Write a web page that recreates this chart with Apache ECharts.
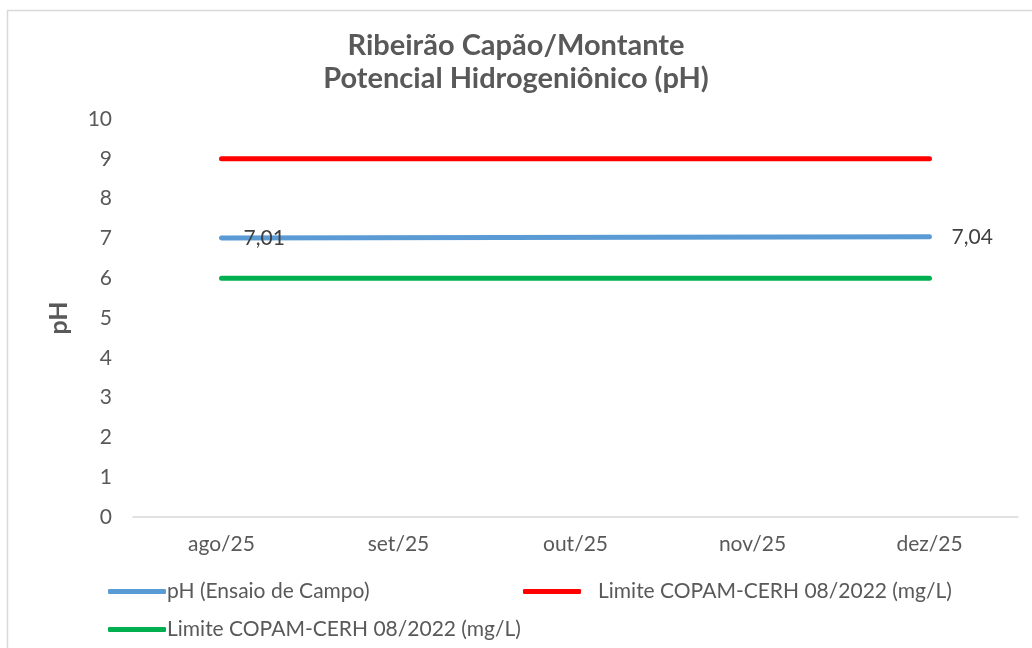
<!DOCTYPE html>
<html>
<head>
<meta charset="utf-8">
<script src="https://cdn.jsdelivr.net/npm/echarts@6/dist/echarts.min.js"></script>
<style>
  html, body { margin: 0; padding: 0; background: #fff; }
  #chart { width: 1032px; height: 648px; }
</style>
</head>
<body>
<div id="chart"></div>
<script>
// data
const categories = ['ago/25', 'set/25', 'out/25', 'nov/25', 'dez/25'];
const phValues = [7.01, null, null, null, 7.04];
const limitMax = [9, 9, 9, 9, 9];
const limitMin = [6, 6, 6, 6, 6];
const yTicks = [0, 10, 1]; // min, max, step

const nomePh = 'pH (Ensaio de Campo)';
const nomeMax = 'Limite COPAM-CERH 08/2022 (mg/L)';
const nomeMin = 'Limite COPAM-CERH 08/2022 (mg/L) '; // trailing space so legend keeps them apart

const fonte = 'Lato';
const cinza = '#595959';

const myChart = echarts.init(document.getElementById('chart'));

const legendBase = {
  itemWidth: 58,
  itemHeight: 5,
  icon: 'roundRect',
  selectedMode: false
};

const option = {
  animation: false,
  title: {
    text: 'Ribeirão Capão/Montante\nPotencial Hidrogeniônico (pH)',
    left: 'center',
    top: 24,
    textStyle: { fontFamily: fonte, fontSize: 29, fontWeight: 'bold', color: cinza, lineHeight: 33 }
  },
  graphic: [{
    type: 'rect',
    left: 5, top: 8,
    shape: { width: 1040, height: 660 },
    style: { fill: 'none', stroke: '#d9d9d9', lineWidth: 1.5 }
  }],
  legend: [
    Object.assign({ data: [nomePh], left: 103, top: 576,
      textStyle: { fontFamily: fonte, fontSize: 21, color: cinza, padding: [0, 0, 0, -4] } }, legendBase),
    Object.assign({ data: [nomeMax], left: 518, top: 576,
      textStyle: { fontFamily: fonte, fontSize: 21, color: cinza, padding: [0, 0, 0, 12] } }, legendBase),
    Object.assign({ data: [nomeMin], left: 103, top: 614,
      textStyle: { fontFamily: fonte, fontSize: 21, color: cinza, padding: [0, 0, 0, -4] } }, legendBase)
  ],
  grid: { left: 133, right: 14, top: 119, bottom: 131 },
  xAxis: {
    type: 'category',
    data: categories,
    boundaryGap: true,
    axisLine: { lineStyle: { color: '#d9d9d9', width: 1.5 } },
    axisTick: { show: false },
    axisLabel: { fontFamily: fonte, fontSize: 21, color: cinza, margin: 17 }
  },
  yAxis: {
    type: 'value',
    min: yTicks[0],
    max: yTicks[1],
    interval: yTicks[2],
    name: 'pH',
    nameLocation: 'middle',
    nameGap: 62,
    nameTextStyle: { fontFamily: fonte, fontSize: 25, fontWeight: 'bold', color: cinza },
    axisLine: { show: false },
    axisTick: { show: false },
    splitLine: { show: false },
    axisLabel: { fontFamily: fonte, fontSize: 21, color: cinza, margin: 21 }
  },
  series: [
    {
      name: nomeMax,
      type: 'line',
      data: limitMax,
      symbol: 'none',
      lineStyle: { color: '#ff0000', width: 5, cap: 'round' },
      itemStyle: { color: '#ff0000' }
    },
    {
      name: nomePh,
      type: 'line',
      data: phValues,
      connectNulls: true,
      symbol: 'circle',
      symbolSize: 0,
      showSymbol: true,
      lineStyle: { color: '#5b9bd5', width: 5, cap: 'round' },
      itemStyle: { color: '#5b9bd5' },
      label: {
        show: true,
        position: 'right',
        distance: 22,
        fontFamily: fonte,
        fontSize: 21,
        color: '#404040',
        formatter: p => p.value == null ? '' : p.value.toFixed(2).replace('.', ',')
      }
    },
    {
      name: nomeMin,
      type: 'line',
      data: limitMin,
      symbol: 'none',
      lineStyle: { color: '#00b050', width: 5, cap: 'round' },
      itemStyle: { color: '#00b050' }
    }
  ]
};

myChart.setOption(option);
</script>
</body>
</html>
